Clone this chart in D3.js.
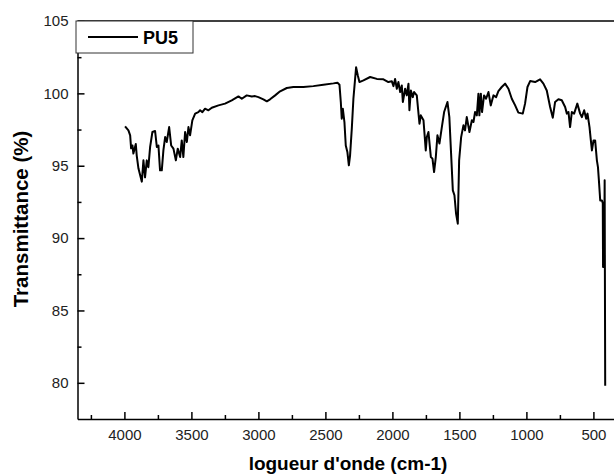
<!DOCTYPE html>
<html>
<head>
<meta charset="utf-8">
<script src="https://cdn.jsdelivr.net/npm/d3@7"></script>
<style>
  html, body { margin: 0; padding: 0; background: #fff; overflow: hidden; }
  svg { display: block; font-family: "Liberation Sans", Arial, sans-serif; }
  .axis path, .axis line { stroke: #000; stroke-width: 1.5; }
  .axis text { font-size: 15px; fill: #222; }
</style>
</head>
<body>
<svg id="chart" width="614" height="475"></svg>
<script>
// spectrum (cm-1 and %)
const wavenumbers = [
  3995, 3970, 3957, 3950, 3940, 3933, 3915, 3908, 3895, 3870, 3858, 3846, 3833, 3821, 3808,
  3791, 3771, 3758, 3746, 3734, 3721, 3709, 3696, 3684, 3666, 3651, 3634, 3616, 3602, 3584,
  3572, 3560, 3547, 3534, 3522, 3510, 3493, 3472, 3448, 3435, 3418, 3398, 3373, 3348, 3298,
  3249, 3199, 3149, 3124, 3087, 3049, 3025, 3000, 2963, 2937, 2913, 2875, 2838, 2788, 2739,
  2664, 2590, 2515, 2440, 2410, 2395, 2385, 2378, 2370, 2358, 2348, 2336, 2325, 2316, 2303,
  2291, 2271, 2258, 2246, 2216, 2166, 2116, 2067, 2030, 2004, 1992, 1980, 1967, 1955, 1942,
  1930, 1922, 1905, 1893, 1880, 1873, 1862, 1848, 1838, 1818, 1798, 1788, 1768, 1751, 1743,
  1731, 1713, 1701, 1689, 1676, 1664, 1649, 1631, 1614, 1589, 1575, 1562, 1549, 1537, 1525,
  1512, 1502, 1487, 1470, 1458, 1445, 1425, 1407, 1395, 1383, 1370, 1358, 1351, 1340, 1331,
  1316, 1301, 1283, 1266, 1246, 1226, 1209, 1184, 1159, 1134, 1109, 1084, 1060, 1027, 1010,
  992, 972, 935, 898, 873, 848, 823, 803, 786, 761, 736, 711, 698, 686, 674,
  661, 644, 620, 599, 586, 569, 554, 544, 529, 519, 511, 499, 487, 474, 466,
  459, 449, 436, 430, 428, 426, 424, 422, 420, 416, 412
];
const transmittance = [
  97.72, 97.44, 97.1, 96.2, 96.4, 95.84, 96.5, 95.7, 94.8, 93.9, 95.37, 94.2, 95.37, 94.9, 96.3,
  97.33, 97.4, 96.3, 96.4, 94.68, 94.68, 96.06, 96.98, 96.64, 97.67, 96.4, 96.18, 95.37, 96.18, 95.6,
  96.75, 95.6, 97.33, 96.64, 97.67, 97.1, 98.14, 98.6, 98.7, 98.83, 98.7, 98.94, 98.83, 99.01, 99.17,
  99.29, 99.52, 99.79, 99.63, 99.86, 99.79, 99.81, 99.74, 99.59, 99.45, 99.59, 99.86, 100.14, 100.37, 100.44,
  100.44, 100.5, 100.6, 100.69, 100.74, 100.6, 99.4, 98.25, 98.94, 98.02, 96.4, 95.95, 95.03, 95.7, 97.56,
  99.63, 101.8, 101.24, 100.78, 100.9, 101.13, 101.0, 100.97, 100.78, 100.83, 100.5, 101.0, 100.32, 100.78, 100.09,
  100.55, 99.4, 100.32, 99.86, 100.67, 98.83, 100.2, 99.74, 100.09, 99.86, 97.9, 98.48, 98.14, 96.06, 96.98,
  97.33, 95.6, 95.49, 94.56, 95.6, 97.1, 96.53, 97.67, 98.71, 99.4, 98.36, 95.84, 93.3, 92.96, 91.7,
  91.0, 95.37, 96.98, 97.79, 97.44, 98.36, 97.33, 98.14, 98.02, 98.71, 98.48, 99.98, 98.48, 99.98, 98.71,
  99.86, 99.63, 100.09, 99.17, 99.86, 99.74, 100.16, 100.44, 100.67, 100.32, 99.63, 99.17, 98.67, 98.6, 99.29,
  100.44, 100.85, 100.78, 100.97, 100.67, 100.2, 99.06, 98.32, 99.4, 99.59, 99.52, 99.06, 98.6, 98.71, 97.67,
  98.71, 98.6, 99.29, 98.6, 98.36, 98.83, 98.25, 98.6, 97.67, 96.75, 96.06, 96.75, 96.75, 95.37, 94.9,
  93.99, 92.6, 92.6, 92.4, 88.0, 92.2, 88.2, 91.8, 88.0, 94.0, 79.8
];
const xTicks = [4000, 3500, 3000, 2500, 2000, 1500, 1000, 500];
const xMinorTicks = [4250, 3750, 3250, 2750, 2250, 1750, 1250, 750];
const yTicks = [80, 85, 90, 95, 100, 105];
const yMinorTicks = [82.5, 87.5, 92.5, 97.5, 102.5];
const seriesName = 'PU5';

const svg = d3.select('#chart');
const mLeft = 77.5, mTop = 21, mBottom = 419, mRight = 640;

const x = d3.scaleLinear().domain([4350, 150]).range([mLeft, mLeft + 4200 * 0.134]);
const y = d3.scaleLinear().domain([77.5, 105]).range([mBottom, mTop]);

svg.append('defs').append('clipPath').attr('id', 'clip')
  .append('rect').attr('x', mLeft).attr('y', mTop).attr('width', 609 - mLeft).attr('height', mBottom - mTop);

// top frame line
svg.append('line')
  .attr('x1', mLeft).attr('x2', mRight).attr('y1', mTop).attr('y2', mTop)
  .attr('stroke', '#000').attr('stroke-width', 1.5);

// x axis
svg.append('g').attr('class', 'axis')
  .attr('transform', `translate(0,${mBottom})`)
  .call(d3.axisBottom(x).tickValues(xMinorTicks).tickSize(-4).tickFormat(''))
  .select('.domain').remove();
svg.append('g').attr('class', 'axis')
  .attr('transform', `translate(0,${mBottom})`)
  .call(d3.axisBottom(x).tickValues(xTicks).tickFormat(d3.format('d'))
    .tickSizeInner(-7).tickSizeOuter(0).tickPadding(10));

// y axis
svg.append('g').attr('class', 'axis')
  .attr('transform', `translate(${mLeft},0)`)
  .call(d3.axisLeft(y).tickValues(yMinorTicks).tickSize(-4).tickFormat(''))
  .select('.domain').remove();
svg.append('g').attr('class', 'axis')
  .attr('transform', `translate(${mLeft},0)`)
  .call(d3.axisLeft(y).tickValues(yTicks).tickFormat(d3.format('d'))
    .tickSizeInner(-7).tickSizeOuter(0).tickPadding(9));

// spectrum line
const points = wavenumbers.map((w, i) => [w, transmittance[i]]);
svg.append('path')
  .datum(points)
  .attr('clip-path', 'url(#clip)')
  .attr('fill', 'none')
  .attr('stroke', '#000')
  .attr('stroke-width', 2)
  .attr('stroke-linejoin', 'round')
  .attr('d', d3.line().x(d => x(d[0])).y(d => y(d[1])));

// keep the strip right of the spectrum clean
svg.append('rect')
  .attr('x', 608).attr('y', 23).attr('width', 6).attr('height', mBottom - 25)
  .attr('fill', '#fff');

// legend
const lg = svg.append('g');
lg.append('rect')
  .attr('x', 76).attr('y', 21).attr('width', 117).attr('height', 32)
  .attr('fill', '#fff').attr('stroke', '#333').attr('stroke-width', 1);
lg.append('line')
  .attr('x1', 88).attr('x2', 138).attr('y1', 37).attr('y2', 37)
  .attr('stroke', '#000').attr('stroke-width', 2);
lg.append('text')
  .attr('x', 143).attr('y', 43.5)
  .attr('font-size', 18).attr('font-weight', 'bold')
  .text(seriesName);

// axis titles
svg.append('text')
  .attr('x', 348).attr('y', 470)
  .attr('text-anchor', 'middle')
  .attr('font-size', 19).attr('font-weight', 'bold')
  .text("logueur d'onde (cm-1)");
svg.append('text')
  .attr('transform', 'translate(28,219) rotate(-90)')
  .attr('text-anchor', 'middle')
  .attr('font-size', 20.5).attr('font-weight', 'bold')
  .text('Transmittance (%)');
</script>
</body>
</html>
